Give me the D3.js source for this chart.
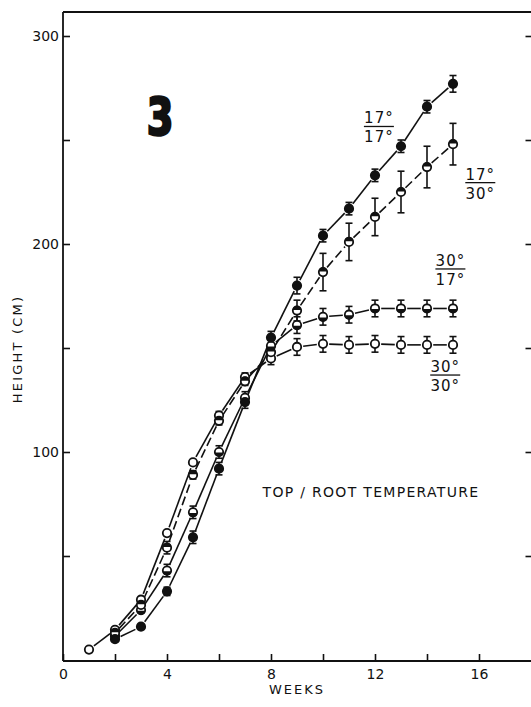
<!DOCTYPE html>
<html lang="en">
<head>
    <meta charset="UTF-8">
    <title>Height vs weeks</title>
    <script src="https://d3js.org/d3.v7.min.js"></script>
    <style>
        *{ margin: 0; padding: 0; }
        body{ background: #fff; }
        .axis path, .axis line{
            fill: none;
            stroke: #111;
            stroke-width: 1.6px;
        }
        .axis text{
            font-family: "DejaVu Sans", sans-serif;
            font-size: 14px;
            fill: #111;
        }
        .lbl{
            font-family: "DejaVu Sans", sans-serif;
            fill: #111;
        }
    </style>
</head>
<body>
    <div id="content"></div>
    <script>
        // weeks after start
        var weeks = [1, 2, 3, 4, 5, 6, 7, 8, 9, 10, 11, 12, 13, 14, 15];

        // top / root temperature series (height in cm)
        var h1717 = [null, 10, 16, 33, 59, 92, 124, 155, 180, 204, 217, 233, 247, 266, 277];
        var e1717 = [0, 0, 0, 2, 3, 3, 3, 3, 4, 3, 3, 3, 3, 3, 4];
        var h1730 = [null, 13, 26.5, 54, 89, 115, 134, 148, 168, 186.5, 201, 213, 225, 237, 248];
        var e1730 = [0, 0, 0, 3, 2, 2, 2, 3, 5, 9, 9, 9, 10, 10, 10];
        var h3017 = [null, 11.5, 24, 43, 71, 100, 126, 151, 161, 165, 166, 169, 169, 169, 169];
        var e3017 = [0, 0, 0, 3, 3, 3, 3, 3, 4, 4, 4, 4, 4, 4, 4];
        var h3030 = [5, 14.5, 29, 61, 95, 117.5, 136, 145, 150.5, 152, 151.5, 152, 151.5, 151.5, 151.5];
        var e3030 = [0, 0, 0, 0, 0, 2, 2, 3, 4, 4, 4, 4, 4, 4, 4];

        var xTicks = [0, 2, 4, 6, 8, 10, 12, 14, 16];
        var xLabels = [0, 4, 8, 12, 16];
        var yTicks = [50, 100, 150, 200, 250, 300];
        var yLabels = [100, 200, 300];

        // label for each curve: top, bottom, position (weeks, cm)
        var curveLabels = [
            {top: "17°", bot: "17°", wk: 12.15, cm: 256.5},
            {top: "17°", bot: "30°", wk: 16.05, cm: 229.5},
            {top: "30°", bot: "17°", wk: 14.9, cm: 188},
            {top: "30°", bot: "30°", wk: 14.7, cm: 137}
        ];

        var width = 531;
        var height = 707;
        var padding = {top: 12, right: 0, bottom: 47, left: 63};

        var svg = d3.select("#content")
                .append("svg")
                .attr("width", width).attr("height", height);

        var xScale = d3.scaleLinear()
                .domain([0, 18])
                .range([padding.left, width]);

        var yScale = d3.scaleLinear()
                .domain([0, 300])
                .range([660, 36]);

        var r = 4.2;

        function build(vals, errs, kind, dash){
            var pts = [];
            for(var i = 0; i < weeks.length; i++){
                if(vals[i] == null) continue;
                pts.push({w: weeks[i], v: vals[i], e: errs[i]});
            }
            return {pts: pts, kind: kind, dash: dash};
        }

        var series = [
            build(h3030, e3030, "open", null),
            build(h3017, e3017, "bottom", null),
            build(h1730, e1730, "top", "9,4"),
            build(h1717, e1717, "filled", null)
        ];

        /* connecting lines, broken near markers */
        series.forEach(function(s){
            var segs = [];
            for(var i = 1; i < s.pts.length; i++){
                var x1 = xScale(s.pts[i-1].w), y1 = yScale(s.pts[i-1].v);
                var x2 = xScale(s.pts[i].w), y2 = yScale(s.pts[i].v);
                var len = Math.sqrt((x2-x1)*(x2-x1) + (y2-y1)*(y2-y1));
                var g = r + 2;
                if(len < 2*g + 2) continue;
                var ux = (x2-x1)/len, uy = (y2-y1)/len;
                segs.push([x1+ux*g, y1+uy*g, x2-ux*g, y2-uy*g]);
            }
            svg.append("g").selectAll("line").data(segs).enter().append("line")
                .attr("x1", function(d){ return d[0]; })
                .attr("y1", function(d){ return d[1]; })
                .attr("x2", function(d){ return d[2]; })
                .attr("y2", function(d){ return d[3]; })
                .attr("stroke", "#111")
                .attr("stroke-width", 1.6)
                .attr("stroke-dasharray", s.dash);
        });

        /* error bars */
        series.forEach(function(s){
            var eb = svg.append("g").selectAll("g")
                .data(s.pts.filter(function(d){ return d.e > 0; }))
                .enter().append("g")
                .attr("stroke", "#111").attr("stroke-width", 1.6);
            eb.append("line")
                .attr("x1", function(d){ return xScale(d.w); })
                .attr("x2", function(d){ return xScale(d.w); })
                .attr("y1", function(d){ return yScale(d.v + d.e); })
                .attr("y2", function(d){ return yScale(d.v - d.e); });
            eb.append("line")
                .attr("x1", function(d){ return xScale(d.w) - 3.5; })
                .attr("x2", function(d){ return xScale(d.w) + 3.5; })
                .attr("y1", function(d){ return yScale(d.v + d.e); })
                .attr("y2", function(d){ return yScale(d.v + d.e); });
            eb.append("line")
                .attr("x1", function(d){ return xScale(d.w) - 3.5; })
                .attr("x2", function(d){ return xScale(d.w) + 3.5; })
                .attr("y1", function(d){ return yScale(d.v - d.e); })
                .attr("y2", function(d){ return yScale(d.v - d.e); });
        });

        /* markers */
        series.forEach(function(s){
            var m = svg.append("g").selectAll("g").data(s.pts).enter().append("g")
                .attr("transform", function(d){
                    return "translate(" + xScale(d.w) + "," + yScale(d.v) + ")";
                });
            m.append("circle")
                .attr("r", r)
                .attr("fill", s.kind == "filled" ? "#111" : "#fff")
                .attr("stroke", "#111")
                .attr("stroke-width", 1.8);
            if(s.kind == "top"){
                m.append("path").attr("d", "M" + (-r) + ",-0.6 A" + r + "," + r + " 0 0 1 " + r + ",-0.6 Z").attr("fill", "#111");
            }
            if(s.kind == "bottom"){
                m.append("path").attr("d", "M" + (-r) + ",0.6 A" + r + "," + r + " 0 0 0 " + r + ",0.6 Z").attr("fill", "#111");
            }
        });

        /* axes */
        function drawScale(){
            var yAxis = d3.axisLeft(yScale).tickValues(yTicks)
                .tickSizeInner(-7).tickSizeOuter(0).tickPadding(4)
                .tickFormat(function(d){ return yLabels.indexOf(d) >= 0 ? d : ""; });
            var yg = svg.append("g").attr("class", "axis")
                .attr("transform", "translate(" + padding.left + ",0)")
                .call(yAxis);
            yg.select(".domain").remove();

            var yRight = d3.axisLeft(yScale).tickValues(yTicks)
                .tickSizeInner(6).tickSizeOuter(0).tickFormat("");
            var yr = svg.append("g").attr("class", "axis")
                .attr("transform", "translate(" + (width + 0.5) + ",0)")
                .call(yRight);
            yr.select(".domain").remove();

            var xAxis = d3.axisBottom(xScale).tickValues(xTicks)
                .tickSizeInner(-7).tickSizeOuter(0).tickPadding(8)
                .tickFormat(function(d){ return xLabels.indexOf(d) >= 0 ? d : ""; });
            var xg = svg.append("g").attr("class", "axis")
                .attr("transform", "translate(0," + 661 + ")")
                .call(xAxis);
            xg.select(".domain").remove();

            // frame lines
            svg.append("line").attr("x1", padding.left).attr("x2", width)
                .attr("y1", 661).attr("y2", 661)
                .attr("stroke", "#111").attr("stroke-width", 1.8);
            svg.append("line").attr("x1", padding.left).attr("x2", padding.left)
                .attr("y1", padding.top).attr("y2", 661)
                .attr("stroke", "#111").attr("stroke-width", 1.8);
            svg.append("line").attr("x1", padding.left).attr("x2", width)
                .attr("y1", padding.top).attr("y2", padding.top)
                .attr("stroke", "#111").attr("stroke-width", 1.8);

            svg.append("text").attr("class", "lbl")
                .attr("x", 297).attr("y", 694)
                .attr("text-anchor", "middle")
                .style("font-size", "13px").style("letter-spacing", "2px")
                .text("WEEKS");

            svg.append("text").attr("class", "lbl")
                .attr("transform", "translate(22,349) rotate(-90)")
                .attr("text-anchor", "middle")
                .style("font-size", "13px").style("letter-spacing", "2.2px")
                .text("HEIGHT (CM)");
        }
        drawScale();

        /* panel number and legend text */
        svg.append("text")
            .attr("transform", "translate(160,135) scale(0.8,1.08)")
            .attr("text-anchor", "middle")
            .style("font-family", "'DejaVu Sans', sans-serif")
            .style("font-weight", "bold")
            .style("font-size", "48px")
            .style("stroke", "#111").style("stroke-width", "2.4px")
            .attr("fill", "#111")
            .text("3");

        svg.append("text").attr("class", "lbl")
            .attr("x", 371).attr("y", 497)
            .attr("text-anchor", "middle")
            .style("font-size", "14px").style("letter-spacing", "1.3px")
            .text("TOP / ROOT TEMPERATURE");

        var cl = svg.append("g").selectAll("g").data(curveLabels).enter().append("g")
            .attr("transform", function(d){
                return "translate(" + xScale(d.wk) + "," + yScale(d.cm) + ")";
            });
        cl.append("text").attr("class", "lbl")
            .attr("text-anchor", "middle").attr("y", -3)
            .style("font-size", "15px").style("letter-spacing", "1px")
            .text(function(d){ return d.top; });
        cl.append("line")
            .attr("x1", -15).attr("x2", 15)
            .attr("stroke", "#111").attr("stroke-width", 1.3);
        cl.append("text").attr("class", "lbl")
            .attr("text-anchor", "middle").attr("y", 16)
            .style("font-size", "15px").style("letter-spacing", "1px")
            .text(function(d){ return d.bot; });
    </script>
</body>
</html>
